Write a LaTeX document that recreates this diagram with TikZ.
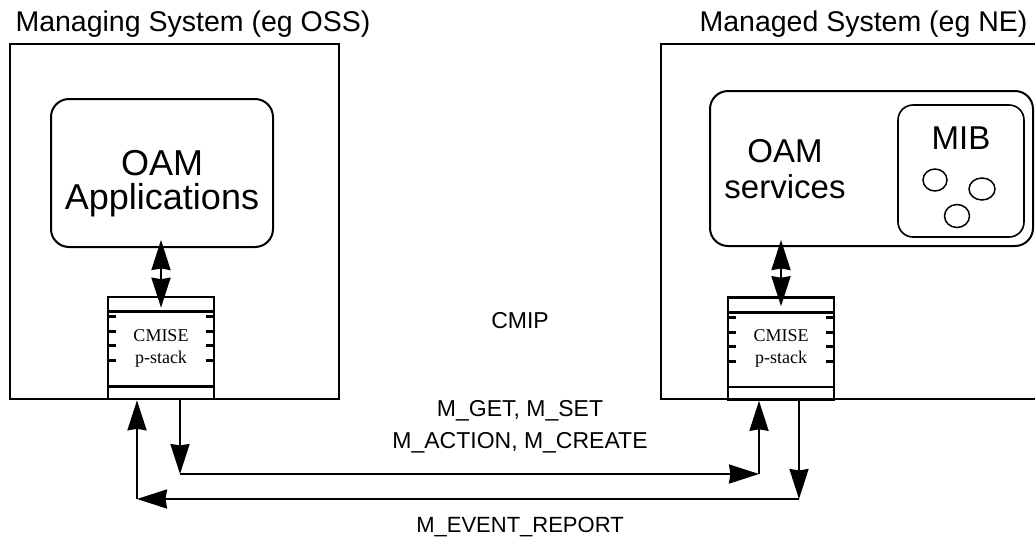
\documentclass[tikz,border=0pt]{standalone}
\usepackage{fontspec}
\setmainfont{Liberation Sans}
\newfontfamily\stackfont{Liberation Serif}
\usetikzlibrary{arrows.meta}

\begin{document}
\begin{tikzpicture}[x=1pt, y=-1pt,
  sysbox/.style={draw, line width=2pt},
  rbox/.style={draw, line width=2pt, rounded corners=18pt},
  mibbox/.style={draw, line width=1.6pt, rounded corners=15pt},
  stackbox/.style={draw, line width=2.6pt, minimum width=106pt, minimum height=102pt,
    inner sep=0pt, align=center, font=\stackfont\fontsize{18}{22}\selectfont},
  bigtext/.style={align=center, font=\fontsize{36}{34}\selectfont},
  title/.style={font=\fontsize{28.5}{32}\selectfont},
  msg/.style={font=\fontsize{23}{26}\selectfont},
  head/.tip={Stealth[length=30pt, width=19pt, inset=1.5pt]},
  tip/.style={-head},
  conn/.style={line width=2.2pt},
  band/.style={line width=2.6pt},
  tick/.style={line width=3pt}
]
\useasboundingbox (0,0) rectangle (1035,544);
\clip (0,0) rectangle (1035,544);

% system frames and titles
\draw[sysbox] (10,44) rectangle (339,399);
\draw[sysbox] (661,44) rectangle (1060,399);
\node[title, anchor=base west] (tl) at (12,31) {Managing System (eg OSS)};
\node[title, anchor=base east] (tr) at (1031,31) {Managed System (eg NE)};

% managing side: applications
\node[rbox, minimum width=222pt, minimum height=148pt] (app) at (162,173) {};
\node[bigtext] (appt) at (162,184) {OAM\\Applications};

% managed side: services and MIB
\node[rbox, minimum width=323pt, minimum height=155pt] (svc) at (871.5,168.5) {};
\node[bigtext, font=\fontsize{33}{36}\selectfont] (svct) at (785,169) {OAM\\services};
\node[mibbox, minimum width=126pt, minimum height=132pt] (mib) at (961,171) {};
\node[font=\fontsize{33}{36}\selectfont] (mibt) at (961,138) {MIB};
\draw[line width=1.5pt] (935,180) ellipse [x radius=12pt, y radius=11pt];
\draw[line width=1.5pt] (982,189) ellipse [x radius=13pt, y radius=11pt];
\draw[line width=1.5pt] (957,216) ellipse [x radius=12.5pt, y radius=11.5pt];

% protocol stacks
\node[stackbox] (ls) at (161,348) {CMISE\\p-stack};
\node[stackbox] (rs) at (781,348.5) {CMISE\\p-stack};
\foreach \s in {ls,rs}{
  \draw[band] ([yshift=-16pt]\s.north west) -- ([yshift=-16pt]\s.north east);
  \draw[band] ([yshift=14pt]\s.south west) -- ([yshift=14pt]\s.south east);
  \foreach \d in {21,36,50,65}{
    \draw[tick] ([yshift=-\d pt]\s.north west) -- ++(9pt,0);
    \draw[tick] ([yshift=-\d pt]\s.north east) -- ++(-9pt,0);
  }
}

% local interfaces
\draw[conn, head-head] ([yshift=8pt]app.south -| ls.north) -- ([yshift=-12pt]ls.north);
\draw[conn, head-head] ([yshift=7pt]svc.south -| rs.north) -- ([yshift=-10pt]rs.north);

% requests: managing -> managed
\coordinate (q1) at (180,474);
\coordinate (q2) at (759,474);
\draw[conn, tip] (ls.south -| q1) -- (q1);
\draw[conn, tip] (q1) -- (q2);
\draw[conn, tip] (q2) -- (rs.south -| q2);

% notifications: managed -> managing
\coordinate (e1) at (799,499);
\coordinate (e2) at (137,499);
\draw[conn, tip] (rs.south -| e1) -- (e1);
\draw[conn, tip] (e1) -- (e2);
\draw[conn, tip] (e2) -- (ls.south -| e2);

% labels
\node[msg] (cmip) at (520,321) {CMIP};
\node[msg] (req1) at (520,411) {M\_GET, M\_SET};
\node[msg] (req2) at (520,443) {M\_ACTION, M\_CREATE};
\node[msg, font=\fontsize{22}{26}\selectfont] (evt) at (520,527) {M\_EVENT\_REPORT};
\end{tikzpicture}
\end{document}
